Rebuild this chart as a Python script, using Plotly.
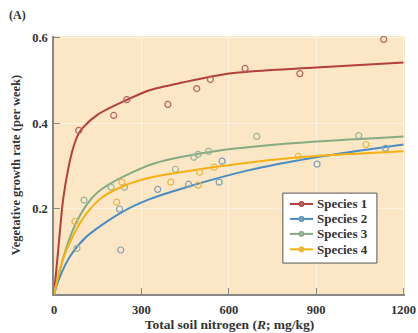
import plotly.graph_objects as go

# ---- data ----
species = ["Species 1", "Species 2", "Species 3", "Species 4"]

# observed points (R in mg/kg, growth rate per week)
s1_pts_R = [85, 205, 250, 391, 490, 537, 656, 844, 1132]
s1_pts_v = [0.383, 0.418, 0.455, 0.444, 0.481, 0.502, 0.528, 0.516, 0.596]

s2_pts_R = [229, 225, 356, 462, 567, 577, 903, 1138]
s2_pts_v = [0.103, 0.199, 0.245, 0.257, 0.262, 0.311, 0.304, 0.341]

s3_pts_R = [79, 103, 196, 242, 417, 480, 495, 531, 696, 1046]
s3_pts_v = [0.107, 0.22, 0.25, 0.25, 0.292, 0.32, 0.327, 0.334, 0.369, 0.371]

s4_pts_R = [72, 215, 233, 401, 495, 500, 550, 838, 1071]
s4_pts_v = [0.17, 0.215, 0.262, 0.262, 0.255, 0.285, 0.297, 0.322, 0.350]

# fitted curves
s1_curve_R = [0, 14, 31, 48, 65, 82, 100, 150, 252, 328, 441, 602, 900, 1200]
s1_curve_v = [0, 0.10, 0.22, 0.29, 0.34, 0.372, 0.39, 0.42, 0.455, 0.477, 0.495, 0.516, 0.530, 0.542]

s2_curve_R = [0, 20, 57, 113, 229, 328, 454, 670, 900, 1200]
s2_curve_v = [0, 0.04, 0.09, 0.135, 0.19, 0.222, 0.25, 0.29, 0.32, 0.35]

s3_curve_R = [0, 34, 68, 113, 150, 205, 328, 410, 568, 700, 900, 1200]
s3_curve_v = [0, 0.09, 0.155, 0.21, 0.238, 0.263, 0.302, 0.317, 0.336, 0.346, 0.357, 0.369]

s4_curve_R = [0, 30, 68, 113, 165, 243, 328, 500, 700, 841, 1200]
s4_curve_v = [0, 0.08, 0.14, 0.19, 0.226, 0.254, 0.272, 0.292, 0.31, 0.32, 0.334]

x_ticks = [0, 300, 600, 900, 1200]
y_ticks = [0.2, 0.4, 0.6]
y_tick_labels = ["0.2", "0.4", "0.6"]

line_colors = ["#B23F3A", "#4A8CC2", "#86AB82", "#F5B114"]
marker_colors = ["#B5625C", "#7FA0B5", "#97B497", "#E9B64A"]

curves = [(s1_curve_R, s1_curve_v), (s2_curve_R, s2_curve_v),
          (s3_curve_R, s3_curve_v), (s4_curve_R, s4_curve_v)]
points = [(s1_pts_R, s1_pts_v), (s2_pts_R, s2_pts_v),
          (s3_pts_R, s3_pts_v), (s4_pts_R, s4_pts_v)]

SERIF = "Liberation Serif, DejaVu Serif, serif"
TXT = "#333333"

fig = go.Figure()
for i, name in enumerate(species):
    cx, cy = curves[i]
    fig.add_trace(go.Scatter(
        x=cx, y=cy, mode="lines", name=name, showlegend=False,
        line=dict(color=line_colors[i], width=2, shape="spline", smoothing=0.8),
        hoverinfo="skip"))
    px_, py_ = points[i]
    fig.add_trace(go.Scatter(
        x=px_, y=py_, mode="markers", name=name, showlegend=False,
        marker=dict(symbol="circle-open", size=6, color=marker_colors[i],
                    line=dict(width=1.2, color=marker_colors[i]))))

# ---- legend box drawn in paper coordinates (compact row spacing) ----
shapes = [dict(type="rect", xref="paper", yref="paper",
               x0=0.652, x1=0.920, y0=0.120, y1=0.391,
               fillcolor="white", line=dict(color="#555555", width=1), layer="above")]
annotations = []
row_y = [0.349, 0.291, 0.233, 0.173]
lx0, lx1, lxm = 0.672, 0.738, 0.705
rx, ry = 0.0075, 0.0100
for i, name in enumerate(species):
    yy = row_y[i]
    shapes.append(dict(type="line", xref="paper", yref="paper",
                       x0=lx0, x1=lx1, y0=yy, y1=yy, layer="above",
                       line=dict(color=line_colors[i], width=2)))
    shapes.append(dict(type="circle", xref="paper", yref="paper",
                       x0=lxm - rx, x1=lxm + rx, y0=yy - ry, y1=yy + ry, layer="above",
                       fillcolor=marker_colors[i], line=dict(color=line_colors[i], width=1)))
    annotations.append(dict(text=name, xref="paper", yref="paper", x=0.745, y=yy,
                            xanchor="left", yanchor="middle", showarrow=False,
                            font=dict(family=SERIF, size=13, color=TXT, weight="bold")))

annotations.append(dict(
    text="(A)", xref="paper", yref="paper", x=-0.135, y=1.08,
    xanchor="left", yanchor="middle", showarrow=False,
    font=dict(family=SERIF, size=12, color=TXT, weight="bold")))

fig.update_layout(
    width=418, height=333,
    margin=dict(l=54, r=13, t=36, b=39, autoexpand=False),
    paper_bgcolor="white",
    plot_bgcolor="#FBE7C6",
    font=dict(family=SERIF, color=TXT, size=12),
    showlegend=False,
    shapes=shapes,
    annotations=annotations,
    xaxis=dict(
        range=[0, 1205], tickvals=x_ticks, ticktext=[str(t) for t in x_ticks],
        ticks="inside", ticklen=6, tickcolor="#888888", tickwidth=1.2,
        showline=True, linecolor="#888888", linewidth=1.5,
        showgrid=True, gridcolor="#FDF3E2", gridwidth=1,
        zeroline=False, ticklabeloverflow="allow", automargin=False,
        ticklabelstandoff=3,
        tickfont=dict(family=SERIF, size=12.5, color=TXT, weight="bold"),
        title=dict(text="Total soil nitrogen (<i>R</i>; mg/kg)", standoff=0,
                   font=dict(family=SERIF, size=13.5, color=TXT, weight="bold")),
    ),
    yaxis=dict(
        range=[0, 0.604], tickvals=y_ticks, ticktext=y_tick_labels,
        ticks="inside", ticklen=6, tickcolor="#888888", tickwidth=1.2,
        showline=True, linecolor="#888888", linewidth=1.5,
        showgrid=True, gridcolor="#FDF3E2", gridwidth=1,
        zeroline=False, ticklabelstandoff=2, automargin=False,
        tickfont=dict(family=SERIF, size=12.5, color=TXT, weight="bold"),
        title=dict(text="Vegetative growth rate (per week)", standoff=9,
                   font=dict(family=SERIF, size=12.5, color=TXT, weight="bold")),
    ),
)

fig.write_html("out.html", config={"displayModeBar": False},
               post_script="document.body.style.margin='0px';")
